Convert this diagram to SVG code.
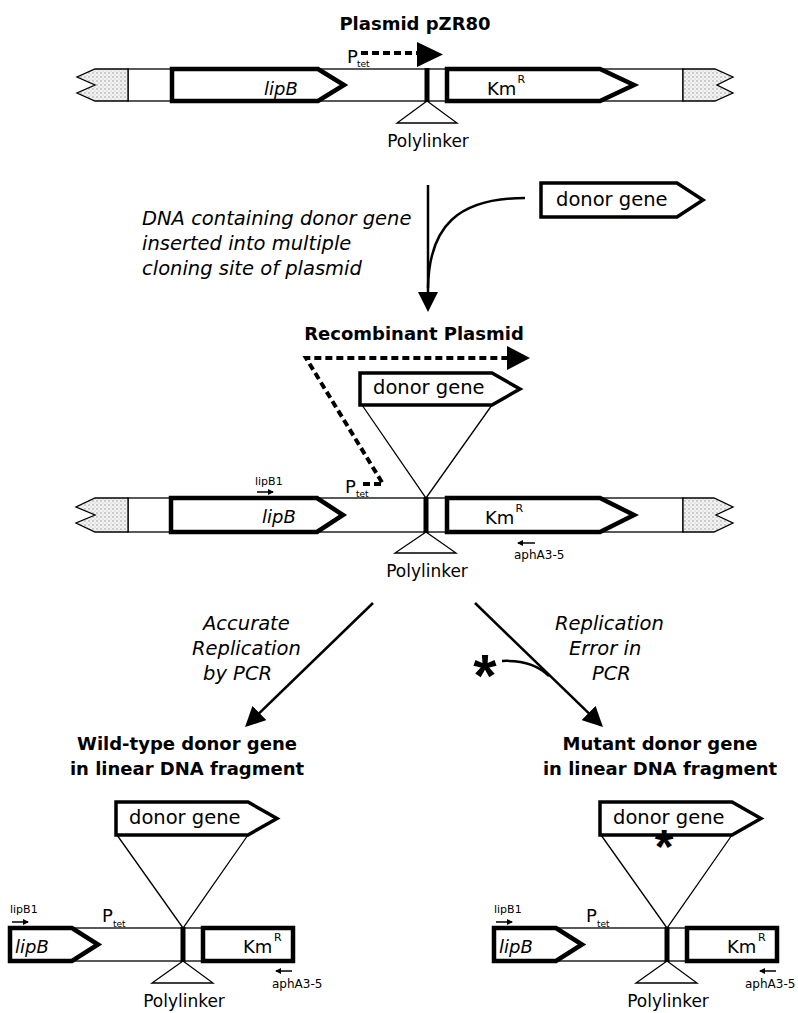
<svg xmlns="http://www.w3.org/2000/svg" width="798" height="1013" viewBox="0 0 798 1013">
<style>
.bb{fill:#fff;stroke:#000;stroke-width:1.3}
.gene{fill:#fff;stroke:#000;stroke-width:4.5;stroke-linejoin:miter}
.donor{fill:#fff;stroke:#000;stroke-width:3.5;stroke-linejoin:miter}
.stip{fill:url(#stipple);stroke:#000;stroke-width:1.3}
.thin{fill:none;stroke:#000;stroke-width:1.3}
.tri{fill:#fff;stroke:#000;stroke-width:1.3}
.bar{stroke:#000;stroke-width:5}
.dash{fill:none;stroke:#000;stroke-width:4;stroke-dasharray:7 4}
.conn{fill:none;stroke:#000;stroke-width:2.5}
.prim{fill:none;stroke:#000;stroke-width:1.5}
text{font-family:"DejaVu Sans",sans-serif;fill:#000}
.t18{font-size:18px}
.gn{font-size:18px;font-style:italic}
.dg{font-size:19.5px}
.it{font-size:19.5px;font-style:italic}
.ttl{font-size:18px;font-weight:bold;text-anchor:middle}
.pl{font-size:17px;text-anchor:middle}
.sub{font-size:9px}
.sup{font-size:11px}
.pr{font-size:11px}
.pr2{font-size:12px}
.ast{font-family:"Liberation Sans",sans-serif;font-weight:bold;text-anchor:middle}
</style>
<defs>
<pattern id="stipple" width="4" height="4" patternUnits="userSpaceOnUse">
<rect width="4" height="4" fill="#f2f2f2"/>
<circle cx="1" cy="1" r="0.7" fill="#8a8a8a"/>
<circle cx="3" cy="3" r="0.5" fill="#b0b0b0"/>
</pattern>
<marker id="ah" viewBox="0 0 20 20" refX="17" refY="10" markerWidth="20" markerHeight="20" markerUnits="userSpaceOnUse" orient="auto">
<path d="M0,0 L20,10 L0,20 z" fill="#000"/>
</marker>
<marker id="sm" viewBox="0 0 6 6" refX="5" refY="3" markerWidth="6" markerHeight="6" markerUnits="userSpaceOnUse" orient="auto">
<path d="M0,0 L6,3 L0,6 z" fill="#000"/>
</marker>
</defs>

<g id="title-pzr80">
<text class="ttl" x="415" y="30">Plasmid pZR80</text>
</g>

<g id="plasmid-pzr80">
<rect class="bb" x="128" y="69" width="555" height="32"/>
<path class="stip" d="M128,69 L95,69 L77,77 L95,85 L77,93 L95,101 L128,101 Z"/>
<path class="stip" d="M683,69 L715,69 L733,77 L717,85 L733,93 L715,101 L683,101 Z"/>
<path class="gene" d="M172,69 L318,69 L344,85 L318,101 L172,101 Z"/>
<text class="gn" x="264" y="95">lipB</text>
<path class="gene" d="M447,69 L600,69 L634,85 L600,101 L447,101 Z"/>
<text class="t18" x="487" y="95">Km</text>
<text class="sup" x="517.5" y="83">R</text>
<line class="bar" x1="427" y1="68" x2="427" y2="102"/>
<path class="tri" d="M427,101 L397,123 L457,123 Z"/>
<text class="pl" x="428" y="147">Polylinker</text>
<text class="t18" x="347" y="63">P</text>
<text class="sub" x="357" y="67">tet</text>
<path class="dash" d="M361,53 L417,53"/>
<path d="M417,42 L443,54.5 L417,67 Z" fill="#000"/>
</g>

<g id="donor-gene-top">
<path class="donor" d="M541,183 L677,183 L703,200 L677,217 L541,217 Z"/>
<text class="dg" x="556" y="206">donor gene</text>
</g>

<g id="label-insertion">
<text class="it" x="142" y="225">DNA containing donor gene</text>
<text class="it" x="142" y="250">inserted into multiple</text>
<text class="it" x="142" y="275">cloning site of plasmid</text>
</g>

<g id="title-recombinant">
<text class="ttl" x="414" y="340">Recombinant Plasmid</text>
</g>

<g id="recombinant-plasmid">
<path class="dash" d="M363,484 L383,484 L306,358 L507,358"/>
<path d="M507,346 L530,358 L507,370 Z" fill="#000"/>
<path class="donor" d="M360,373 L492,373 L520,389 L492,405 L360,405 Z"/>
<text class="dg" x="373" y="394">donor gene</text>
<path class="thin" d="M362,405 L426,498 L492,405"/>
<rect class="bb" x="128" y="498" width="555" height="34"/>
<path class="stip" d="M128,498 L95,498 L76,507 L95,515 L76,523 L95,532 L128,532 Z"/>
<path class="stip" d="M683,498 L714,498 L733,507 L716,515 L733,523 L714,532 L683,532 Z"/>
<path class="gene" d="M171,498 L317,498 L343,515 L317,532 L171,532 Z"/>
<text class="gn" x="262" y="523">lipB</text>
<path class="gene" d="M447,498 L600,498 L634,515 L600,532 L447,532 Z"/>
<text class="t18" x="485" y="524">Km</text>
<text class="sup" x="515.5" y="512">R</text>
<line class="bar" x1="426" y1="497" x2="426" y2="533"/>
<path class="tri" d="M426,532 L395,553 L456,553 Z"/>
<text class="pl" x="427" y="577">Polylinker</text>
<text class="t18" x="345" y="493">P</text>
<text class="sub" x="356" y="497">tet</text>
<text class="pr" x="255" y="485">lipB1</text>
<line class="prim" x1="257" y1="492" x2="273" y2="492" marker-end="url(#sm)"/>
<line class="prim" x1="535" y1="543" x2="518" y2="543" marker-end="url(#sm)"/>
<text class="pr2" x="514" y="559">aphA3-5</text>
</g>

<g id="label-accurate">
<text class="it" x="203" y="630">Accurate</text>
<text class="it" x="192" y="655">Replication</text>
<text class="it" x="203" y="680">by PCR</text>
</g>

<g id="label-error">
<text class="it" x="555" y="630">Replication</text>
<text class="it" x="569" y="655">Error in</text>
<text class="it" x="592" y="680">PCR</text>
<text class="ast" x="485" y="696" font-size="60">*</text>
</g>

<g id="wildtype-fragment">
<text class="ttl" x="187" y="750">Wild-type donor gene</text>
<text class="ttl" x="187" y="775">in linear DNA fragment</text>
<path class="donor" d="M116,802 L248,802 L277,818.5 L248,835 L116,835 Z"/>
<text class="dg" x="129" y="824">donor gene</text>
<path class="thin" d="M117,835 L183,928 L248,835"/>
<rect class="bb" x="10" y="928" width="283" height="33"/>
<path class="gene" d="M10,928 L72,928 L98,944.5 L72,961 L10,961 Z"/>
<text class="gn" x="15" y="953">lipB</text>
<rect class="gene" x="203" y="928" width="90" height="33"/>
<text class="t18" x="243" y="953">Km</text>
<text class="sup" x="274" y="941">R</text>
<line class="bar" x1="183" y1="927" x2="183" y2="962"/>
<path class="tri" d="M183,961 L152,983 L213,983 Z"/>
<text class="pl" x="184" y="1007">Polylinker</text>
<text class="t18" x="102" y="922">P</text>
<text class="sub" x="113" y="927">tet</text>
<text class="pr" x="10" y="913">lipB1</text>
<line class="prim" x1="12" y1="922" x2="28" y2="922" marker-end="url(#sm)"/>
<line class="prim" x1="292" y1="971" x2="276" y2="971" marker-end="url(#sm)"/>
<text class="pr2" x="272" y="988">aphA3-5</text>
</g>

<g id="mutant-fragment">
<text class="ttl" x="660" y="750">Mutant donor gene</text>
<text class="ttl" x="660" y="775">in linear DNA fragment</text>
<path class="donor" d="M600,802 L732,802 L761,818.5 L732,835 L600,835 Z"/>
<text class="dg" x="613" y="824">donor gene</text>
<path class="thin" d="M601,835 L667,928 L732,835"/>
<text class="ast" x="664" y="863" font-size="48">*</text>
<rect class="bb" x="494" y="928" width="283" height="33"/>
<path class="gene" d="M494,928 L556,928 L582,944.5 L556,961 L494,961 Z"/>
<text class="gn" x="499" y="953">lipB</text>
<rect class="gene" x="687" y="928" width="90" height="33"/>
<text class="t18" x="727" y="953">Km</text>
<text class="sup" x="758" y="941">R</text>
<line class="bar" x1="667" y1="927" x2="667" y2="962"/>
<path class="tri" d="M667,961 L636,983 L697,983 Z"/>
<text class="pl" x="668" y="1007">Polylinker</text>
<text class="t18" x="586" y="922">P</text>
<text class="sub" x="597" y="927">tet</text>
<text class="pr" x="494" y="913">lipB1</text>
<line class="prim" x1="496" y1="922" x2="512" y2="922" marker-end="url(#sm)"/>
<line class="prim" x1="776" y1="971" x2="760" y2="971" marker-end="url(#sm)"/>
<text class="pr2" x="745" y="988">aphA3-5</text>
</g>

<g id="connectors">
<line class="conn" x1="428" y1="185" x2="428" y2="309" marker-end="url(#ah)"/>
<path class="conn" d="M525,198 C458,198 429,226 428,288"/>
<line class="conn" x1="373" y1="603" x2="247.2" y2="724.9" marker-end="url(#ah)"/>
<line class="conn" x1="475" y1="603" x2="600.8" y2="724.9" marker-end="url(#ah)"/>
<path class="conn" d="M502,661 C522,660 538,665 549,676"/>
</g>
</svg>
